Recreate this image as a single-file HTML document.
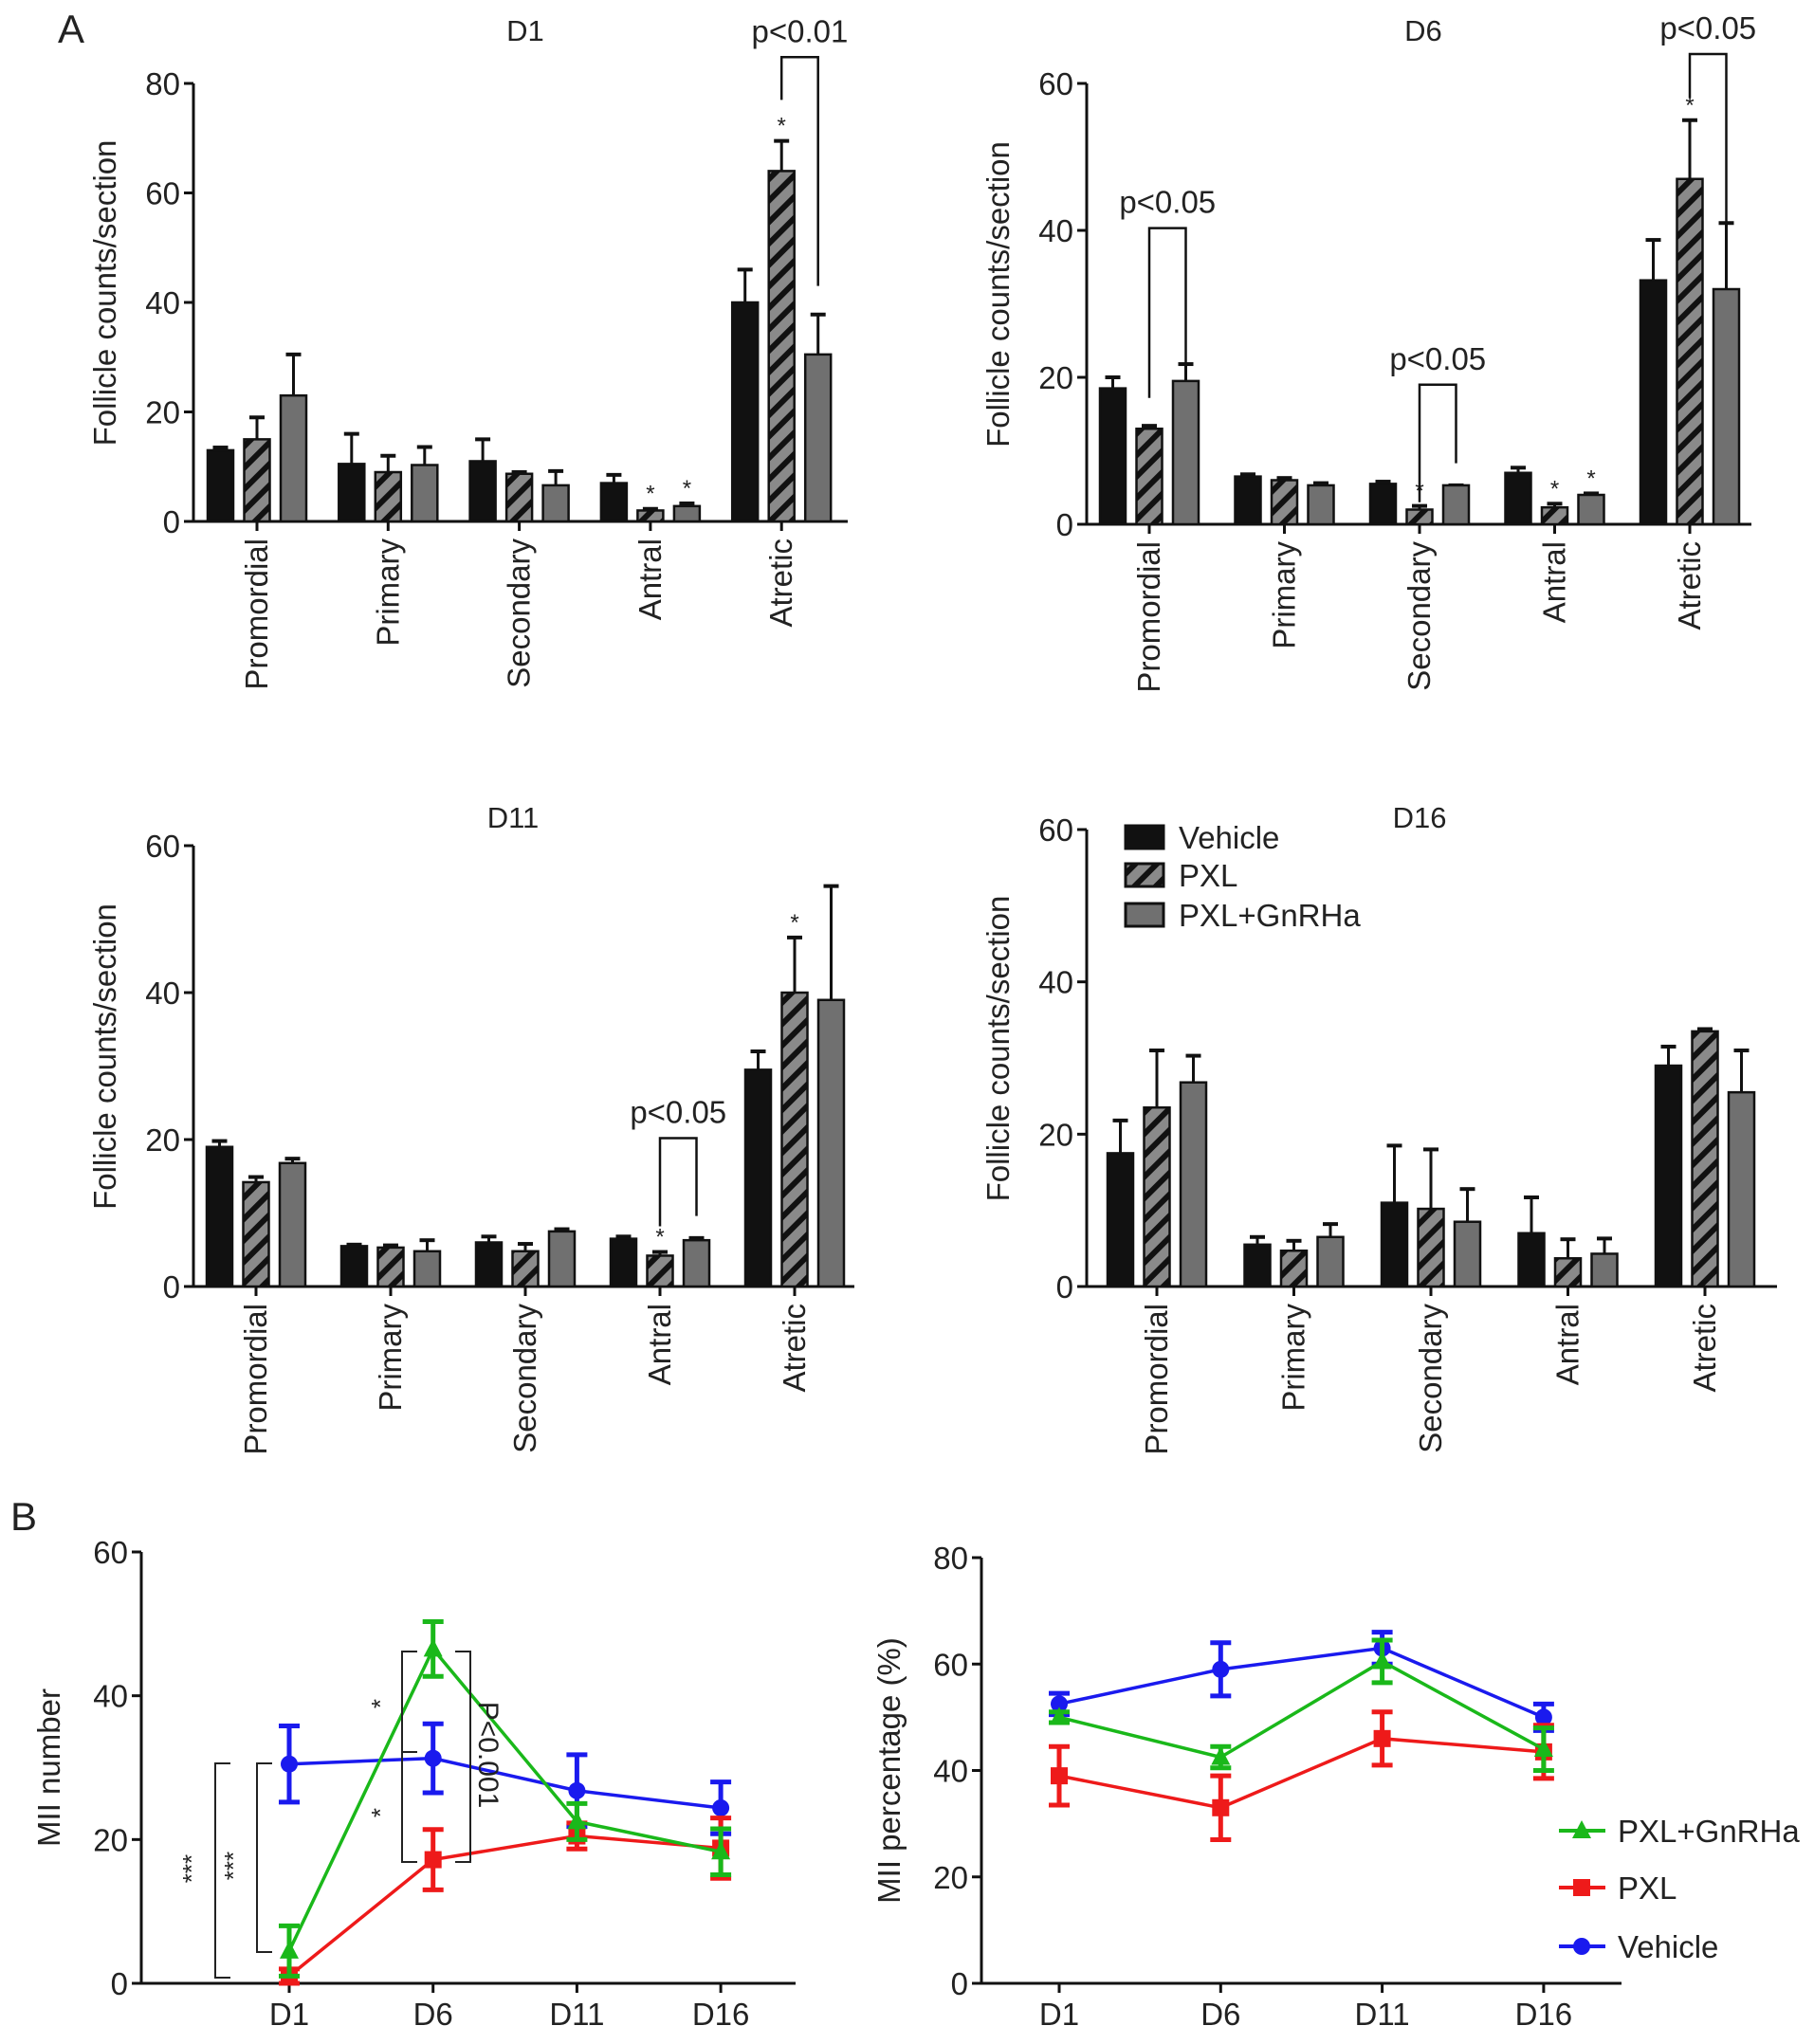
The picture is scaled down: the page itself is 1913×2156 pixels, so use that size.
<!DOCTYPE html>
<html><head><meta charset="utf-8"><style>
html,body{margin:0;padding:0;background:#fff}
svg{display:block}
text{font-family:"Liberation Sans",sans-serif;fill:#222}
</style></head><body>
<svg id="fig" width="1913" height="2156" viewBox="0 0 1913 2156" xmlns="http://www.w3.org/2000/svg">
<defs>
<pattern id="hatch" patternUnits="userSpaceOnUse" width="16" height="16" patternTransform="rotate(45)">
<rect width="16" height="16" fill="#8a8a8a"/><rect x="0" y="0" width="6" height="16" fill="#111"/>
</pattern>
</defs>
<g id="root"></g>
</svg>
<script>
// ---------- data ----------
const cats = ["Promordial","Primary","Secondary","Antral","Atretic"];
const seriesNames = ["Vehicle","PXL","PXL+GnRHa"];
const d1Veh = [13,10.5,11,7,40];     const d1VehErr = [0.5,5.5,4,1.5,6];
const d1Pxl = [15,9,8.7,2,64];       const d1PxlErr = [4,3,0.3,0.3,5.5];
const d1Gn  = [23,10.3,6.6,2.8,30.5];const d1GnErr  = [7.5,3.3,2.6,0.5,7.3];
const d6Veh = [18.5,6.5,5.5,7,33.2]; const d6VehErr = [1.5,0.3,0.3,0.7,5.5];
const d6Pxl = [13,6,2,2.3,47];       const d6PxlErr = [0.4,0.3,0.5,0.5,8];
const d6Gn  = [19.5,5.3,5.3,4,32];   const d6GnErr  = [2.3,0.3,0,0.2,9];
const d11Veh = [19,5.5,6,6.5,29.5];  const d11VehErr = [0.8,0.2,0.8,0.3,2.5];
const d11Pxl = [14.2,5.3,4.8,4.2,40];const d11PxlErr = [0.7,0.3,1,0.5,7.5];
const d11Gn  = [16.8,4.8,7.5,6.3,39];const d11GnErr  = [0.6,1.5,0.3,0.3,15.5];
const d16Veh = [17.5,5.5,11,7,29];   const d16VehErr = [4.3,1,7.5,4.7,2.5];
const d16Pxl = [23.5,4.7,10.2,3.7,33.5]; const d16PxlErr = [7.5,1.3,7.8,2.5,0.3];
const d16Gn  = [26.8,6.5,8.5,4.3,25.5];  const d16GnErr  = [3.5,1.7,4.3,2,5.5];
const days = ["D1","D6","D11","D16"];
const miiVeh = [30.5,31.3,26.8,24.4]; const miiVehErr = [5.3,4.8,5,3.6];
const miiPxl = [1,17.2,20.5,18.8];    const miiPxlErr = [1,4.2,1.8,4.2];
const miiGn  = [4.5,46.5,22.5,18.3];  const miiGnErr  = [3.5,3.8,2.5,3.2];
const pctVeh = [52.5,59,63,50];       const pctVehErr = [2,5,3,2.5];
const pctPxl = [39,33,46,43.5];       const pctPxlErr = [5.5,6,5,5];
const pctGn  = [50,42.5,60.5,44];     const pctGnErr  = [1,2,4,4];

const NS="http://www.w3.org/2000/svg";
const root=document.getElementById('root');
function el(tag,attrs,parent,txt){const e=document.createElementNS(NS,tag);for(const k in attrs)e.setAttribute(k,attrs[k]);if(txt!==undefined)e.textContent=txt;(parent||root).appendChild(e);return e;}
function ln(x1,y1,x2,y2,w,c,p){return el('line',{x1,y1,x2,y2,stroke:c||'#111','stroke-width':w||3},p);}
function txt(x,y,s,size,anchor,p,rot){const a={x,y,'font-size':size,'text-anchor':anchor||'middle'};if(rot)a.transform=`rotate(${rot} ${x} ${y})`;return el('text',a,p,s);}

const fills=['#111','url(#hatch)','#707070'];

function barChart(cfg){
  const g=el('g',{});
  
  
  const y=v=>cfg.y0-(v/cfg.max)*(cfg.y0-cfg.yTop);
  const gx=i=>cfg.c0+i*cfg.gs;
  const bw=27, bs=38.5;
  ln(cfg.ax,cfg.yTop,cfg.ax,cfg.y0,3,'#111',g);
  ln(cfg.ax,cfg.y0,cfg.xEnd,cfg.y0,3,'#111',g);
  for(let t=0;t<=cfg.max;t+=20){ln(cfg.ax-10,y(t),cfg.ax,y(t),3,'#111',g);
    const tl=txt(cfg.ax-14,y(t)+12,String(t),33,'end',g);
    
    }
  const yt=txt(cfg.ax-82,(cfg.yTop+cfg.y0)/2-10,'Follicle counts/section',33,'middle',g,-90);
  
  
  const tt=txt(cfg.tx,cfg.ty,cfg.title,31,'middle',g);
  
  
  cats.forEach((c,i)=>{
    ln(gx(i),cfg.y0,gx(i),cfg.y0+10,3,'#111',g);
    const cl=txt(gx(i)+11,cfg.y0+18,c,33,'end',g,-90);
    
    
    cfg.series.forEach((s,k)=>{
      const cx=gx(i)+(k-1)*bs, v=s.v[i], e=s.e[i];
      ln(cx,y(v),cx,y(v+e),3,'#111',g);
      ln(cx-8,y(v+e),cx+8,y(v+e),4,'#111',g);
      const r=el('rect',{x:cx-bw/2,y:y(v),width:bw,height:cfg.y0-y(v),fill:fills[k],stroke:'#111','stroke-width':2.5},g);
      
      
    });
  });
  (cfg.stars||[]).forEach(([i,k])=>{const s=cfg.series[k];const cx=gx(i)+(k-1)*bs;
    const st=txt(cx,y(s.v[i]+s.e[i])-8,'*',24,'middle',g);
    
    });
  (cfg.brackets||[]).forEach(b=>{const xl=gx(b.i),xr=gx(b.i)+bs;
    el('polyline',{points:`${xl},${y(b.l)} ${xl},${y(b.top)} ${xr},${y(b.top)} ${xr},${y(b.r)}`,fill:'none',stroke:'#111','stroke-width':2.5},g);
    const bt=txt((xl+xr)/2+(b.dx||0),y(b.top)-16,b.label,33,'middle',g);
    
    });
}

barChart({name:'chart-d1',title:'D1',tx:554,ty:43,ax:204,yTop:88,y0:550,xEnd:894,max:80,c0:271,gs:138.3,
  series:[{v:d1Veh,e:d1VehErr},{v:d1Pxl,e:d1PxlErr},{v:d1Gn,e:d1GnErr}],
  stars:[[3,1],[3,2],[4,1]],brackets:[{i:4,l:77,r:43,top:84.8,label:'p<0.01',dx:0}]});
barChart({name:'chart-d6',title:'D6',tx:1501,ty:43,ax:1146,yTop:88,y0:553,xEnd:1847,max:60,c0:1212,gs:142.5,
  series:[{v:d6Veh,e:d6VehErr},{v:d6Pxl,e:d6PxlErr},{v:d6Gn,e:d6GnErr}],
  stars:[[2,1],[3,1],[3,2],[4,1]],brackets:[{i:0,l:17.2,r:22,top:40.3,label:'p<0.05'},{i:2,l:3,r:8.3,top:19,label:'p<0.05'},{i:4,l:58,r:40,top:64,label:'p<0.05',dx:0}]});
barChart({name:'chart-d11',title:'D11',tx:541,ty:873,ax:204,yTop:892,y0:1357,xEnd:901,max:60,c0:270,gs:142,
  series:[{v:d11Veh,e:d11VehErr},{v:d11Pxl,e:d11PxlErr},{v:d11Gn,e:d11GnErr}],
  stars:[[3,1],[4,1]],brackets:[{i:3,l:8.2,r:9.6,top:20.2,label:'p<0.05'}]});
barChart({name:'chart-d16',title:'D16',tx:1497,ty:873,ax:1146,yTop:875,y0:1357,xEnd:1874,max:60,c0:1220,gs:144.5,
  series:[{v:d16Veh,e:d16VehErr},{v:d16Pxl,e:d16PxlErr},{v:d16Gn,e:d16GnErr}]});

[["Vehicle",883],["PXL",923],["PXL+GnRHa",965]].forEach(([n,yy],k)=>{
  const r=el('rect',{x:1187,y:yy-12,width:40,height:24,fill:fills[k],stroke:'#111','stroke-width':3});
  
  
  const t=txt(1243,yy+12,n,33,'start');
  
  
});

const pa=txt(75,45,'A',42,'middle');  
const pb=txt(25,1614,'B',42,'middle');  

const colors={veh:'#1a1aee',pxl:'#ee1a1a',gn:'#1ab81a'};
function lineChart(cfg){
  const g=el('g',{});
  
  
  const y=v=>cfg.y0-(v/cfg.max)*(cfg.y0-cfg.yTop);
  const x=i=>cfg.c0+i*cfg.gs;
  ln(cfg.ax,cfg.yTop,cfg.ax,cfg.y0,3,'#111',g);
  ln(cfg.ax,cfg.y0,cfg.xEnd,cfg.y0,3,'#111',g);
  for(let t=0;t<=cfg.max;t+=20){ln(cfg.ax-10,y(t),cfg.ax,y(t),3,'#111',g);
    const tl=txt(cfg.ax-14,y(t)+12,String(t),33,'end',g);
    
    }
  const yt=txt(cfg.ax-86,(cfg.yTop+cfg.y0)/2,cfg.ytitle,33,'middle',g,-90);
  
  
  days.forEach((d,i)=>{ln(x(i),cfg.y0,x(i),cfg.y0+10,3,'#111',g);
    const dl=txt(x(i),cfg.y0+44,d,33,'middle',g);
    
    });
  cfg.series.forEach(s=>{
    const pts=s.v.map((v,i)=>`${x(i)},${y(v)}`).join(' ');
    const pl=el('polyline',{points:pts,fill:'none',stroke:s.c,'stroke-width':3.5},g);
    
    
    s.v.forEach((v,i)=>{const cx=x(i);
      ln(cx,y(v-s.e[i]),cx,y(v+s.e[i]),5,s.c,g);
      ln(cx-11,y(v+s.e[i]),cx+11,y(v+s.e[i]),5,s.c,g);
      ln(cx-11,y(v-s.e[i]),cx+11,y(v-s.e[i]),5,s.c,g);
      let m;
      if(s.m==='circle') m=el('circle',{cx,cy:y(v),r:9,fill:s.c},g);
      else if(s.m==='square') m=el('rect',{x:cx-9,y:y(v)-9,width:18,height:18,fill:s.c},g);
      else m=el('polygon',{points:`${cx},${y(v)-11} ${cx-10},${y(v)+8} ${cx+10},${y(v)+8}`,fill:s.c},g);
      
      
    });
  });
}
lineChart({name:'chart-mii-number',ytitle:'MII number',ax:149,yTop:1637,y0:2092,xEnd:839,max:60,c0:305,gs:151.7,
  series:[{n:'vehicle',v:miiVeh,e:miiVehErr,c:colors.veh,m:'circle'},{n:'pxl',v:miiPxl,e:miiPxlErr,c:colors.pxl,m:'square'},{n:'pxl-gnrha',v:miiGn,e:miiGnErr,c:colors.gn,m:'tri'}]});
lineChart({name:'chart-mii-percentage',ytitle:'MII percentage (%)',ax:1035,yTop:1643,y0:2092,xEnd:1710,max:80,c0:1117,gs:170.3,
  series:[{n:'vehicle',v:pctVeh,e:pctVehErr,c:colors.veh,m:'circle'},{n:'pxl',v:pctPxl,e:pctPxlErr,c:colors.pxl,m:'square'},{n:'pxl-gnrha',v:pctGn,e:pctGnErr,c:colors.gn,m:'tri'}]});

function br(x,y1,y2,dir){el('polyline',{points:`${x+dir*16},${y1} ${x},${y1} ${x},${y2} ${x+dir*16},${y2}`,fill:'none',stroke:'#222','stroke-width':2});}
br(227,1860,2086,1); br(271,1860,2059,1);
br(424,1742,1848,1); br(424,1848,1964,1); br(496,1742,1964,-1);
[[211,1971,'***'],[255,1968,'***'],[410,1797,'*'],[410,1912,'*']].forEach(([x,y,s])=>{const t=txt(x,y,s,26,'middle',null,-90);});
const pv=txt(505,1851,'P<0.001',30,'middle',null,90);  

[["PXL+GnRHa",1931,colors.gn,'tri'],["PXL",1991,colors.pxl,'square'],["Vehicle",2053,colors.veh,'circle']].forEach(([n,yy,c,m])=>{
  ln(1644,yy,1693,yy,4,c);
  let mk;
  if(m==='circle') mk=el('circle',{cx:1668,cy:yy,r:9,fill:c});
  else if(m==='square') mk=el('rect',{x:1659,y:yy-9,width:18,height:18,fill:c});
  else mk=el('polygon',{points:`1668,${yy-11} 1658,${yy+8} 1678,${yy+8}`,fill:c});
  
  
  const t=txt(1706,yy+12,n,33,'start');
  
  
});
</script>
</body></html>
